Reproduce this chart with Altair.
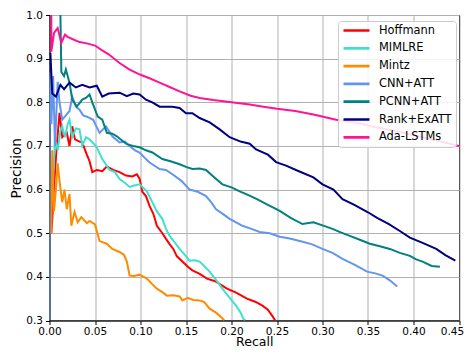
import altair as alt
import pandas as pd

series_names = ["Hoffmann", "MIMLRE", "Mintz", "CNN+ATT", "PCNN+ATT", "Rank+ExATT", "Ada-LSTMs"]
series_colors = ["#ff0000", "#40e0d0", "#ff8c00", "#6495ed", "#008080", "#000080", "#ff1493"]

hoffmann_r = [0.002, 0.003, 0.006, 0.008, 0.011, 0.014, 0.019, 0.022, 0.025, 0.028, 0.033, 0.036, 0.041, 0.044, 0.047, 0.052, 0.058, 0.063, 0.07, 0.077, 0.084, 0.091, 0.096, 0.099, 0.102, 0.106, 0.110, 0.114, 0.118, 0.124, 0.128, 0.132, 0.136, 0.140, 0.146, 0.152, 0.157, 0.165, 0.173, 0.182, 0.195, 0.205, 0.217, 0.226, 0.234, 0.240, 0.245, 0.248]
hoffmann_p = [0.50, 0.53, 0.64, 0.70, 0.776, 0.72, 0.73, 0.70, 0.745, 0.715, 0.71, 0.708, 0.68, 0.665, 0.64, 0.645, 0.642, 0.653, 0.645, 0.64, 0.632, 0.63, 0.635, 0.625, 0.595, 0.585, 0.562, 0.545, 0.517, 0.50, 0.487, 0.475, 0.464, 0.447, 0.435, 0.423, 0.415, 0.407, 0.396, 0.39, 0.373, 0.364, 0.35, 0.343, 0.334, 0.325, 0.31, 0.30]

mimlre_r = [0.004, 0.006, 0.009, 0.012, 0.014, 0.017, 0.020, 0.022, 0.025, 0.029, 0.033, 0.036, 0.040, 0.044, 0.051, 0.058, 0.066, 0.072, 0.077, 0.083, 0.088, 0.094, 0.099, 0.107, 0.113, 0.118, 0.124, 0.128, 0.132, 0.138, 0.143, 0.149, 0.154, 0.160, 0.165, 0.170, 0.176, 0.183, 0.190, 0.198, 0.205, 0.210, 0.213, 0.215]
mimlre_p = [0.62, 0.715, 0.69, 0.735, 0.745, 0.72, 0.75, 0.76, 0.72, 0.74, 0.738, 0.70, 0.72, 0.715, 0.70, 0.67, 0.645, 0.64, 0.624, 0.615, 0.606, 0.61, 0.612, 0.596, 0.571, 0.55, 0.533, 0.51, 0.494, 0.478, 0.464, 0.45, 0.437, 0.438, 0.435, 0.425, 0.412, 0.393, 0.373, 0.352, 0.334, 0.318, 0.304, 0.30]

mintz_r = [0.002, 0.003, 0.005, 0.007, 0.009, 0.011, 0.014, 0.0165, 0.019, 0.022, 0.024, 0.0275, 0.031, 0.035, 0.041, 0.044, 0.050, 0.055, 0.063, 0.069, 0.077, 0.082, 0.085, 0.088, 0.093, 0.099, 0.107, 0.112, 0.118, 0.124, 0.129, 0.136, 0.143, 0.146, 0.152, 0.158, 0.165, 0.170, 0.176, 0.183, 0.190, 0.192]
mintz_p = [0.50, 0.69, 0.55, 0.60, 0.66, 0.62, 0.571, 0.60, 0.555, 0.59, 0.517, 0.549, 0.525, 0.537, 0.523, 0.528, 0.52, 0.482, 0.476, 0.464, 0.457, 0.45, 0.435, 0.403, 0.402, 0.405, 0.396, 0.385, 0.373, 0.365, 0.357, 0.358, 0.355, 0.346, 0.352, 0.347, 0.346, 0.342, 0.327, 0.318, 0.305, 0.30]

cnn_r = [0.000, 0.000, 0.002, 0.004, 0.006, 0.009, 0.011, 0.014, 0.018, 0.022, 0.025, 0.029, 0.033, 0.037, 0.041, 0.048, 0.055, 0.062, 0.069, 0.077, 0.083, 0.088, 0.094, 0.099, 0.105, 0.110, 0.121, 0.128, 0.135, 0.145, 0.154, 0.163, 0.172, 0.178, 0.183, 0.190, 0.198, 0.205, 0.212, 0.222, 0.231, 0.242, 0.253, 0.264, 0.275, 0.288, 0.300, 0.311, 0.322, 0.335, 0.349, 0.358, 0.366, 0.374, 0.382]
cnn_p = [0.30, 0.868, 0.75, 0.86, 0.70, 0.847, 0.80, 0.76, 0.77, 0.78, 0.813, 0.79, 0.783, 0.77, 0.767, 0.76, 0.73, 0.745, 0.722, 0.708, 0.71, 0.70, 0.69, 0.685, 0.672, 0.662, 0.647, 0.645, 0.635, 0.62, 0.60, 0.595, 0.585, 0.57, 0.555, 0.545, 0.533, 0.525, 0.517, 0.51, 0.503, 0.50, 0.492, 0.488, 0.482, 0.475, 0.464, 0.455, 0.441, 0.428, 0.412, 0.408, 0.403, 0.392, 0.378]

pcnn_r = [0.012, 0.013, 0.016, 0.018, 0.022, 0.025, 0.030, 0.036, 0.040, 0.044, 0.047, 0.053, 0.058, 0.063, 0.069, 0.074, 0.080, 0.085, 0.092, 0.099, 0.106, 0.113, 0.124, 0.133, 0.143, 0.150, 0.157, 0.165, 0.172, 0.180, 0.190, 0.200, 0.209, 0.218, 0.228, 0.240, 0.253, 0.265, 0.278, 0.290, 0.300, 0.311, 0.320, 0.330, 0.341, 0.352, 0.363, 0.374, 0.385, 0.396, 0.403, 0.410, 0.420, 0.429]
pcnn_p = [1.00, 0.87, 0.86, 0.875, 0.845, 0.806, 0.79, 0.806, 0.81, 0.818, 0.80, 0.767, 0.76, 0.73, 0.728, 0.722, 0.712, 0.704, 0.70, 0.697, 0.69, 0.685, 0.67, 0.665, 0.658, 0.652, 0.647, 0.648, 0.645, 0.63, 0.612, 0.605, 0.596, 0.588, 0.578, 0.565, 0.551, 0.535, 0.521, 0.525, 0.518, 0.51, 0.502, 0.494, 0.485, 0.476, 0.47, 0.464, 0.455, 0.448, 0.44, 0.435, 0.425, 0.423]

rank_r = [0.001, 0.003, 0.007, 0.012, 0.016, 0.022, 0.029, 0.036, 0.044, 0.052, 0.058, 0.065, 0.077, 0.085, 0.092, 0.099, 0.106, 0.113, 0.121, 0.135, 0.143, 0.150, 0.157, 0.165, 0.176, 0.187, 0.198, 0.210, 0.220, 0.227, 0.240, 0.249, 0.260, 0.274, 0.290, 0.300, 0.312, 0.322, 0.335, 0.350, 0.360, 0.373, 0.385, 0.396, 0.410, 0.425, 0.435, 0.446]
rank_p = [0.913, 0.82, 0.813, 0.84, 0.83, 0.845, 0.834, 0.84, 0.834, 0.838, 0.813, 0.82, 0.822, 0.814, 0.82, 0.818, 0.806, 0.80, 0.79, 0.79, 0.787, 0.775, 0.775, 0.764, 0.754, 0.738, 0.72, 0.71, 0.705, 0.692, 0.68, 0.663, 0.655, 0.642, 0.628, 0.612, 0.60, 0.578, 0.565, 0.548, 0.535, 0.521, 0.505, 0.49, 0.478, 0.464, 0.45, 0.437]

ada_r = [0.002, 0.002, 0.005, 0.009, 0.013, 0.017, 0.020, 0.025, 0.033, 0.041, 0.050, 0.057, 0.065, 0.077, 0.088, 0.100, 0.110, 0.121, 0.132, 0.143, 0.155, 0.165, 0.180, 0.200, 0.220, 0.235, 0.250, 0.270, 0.290, 0.315, 0.340, 0.360, 0.382, 0.400, 0.420, 0.440, 0.450]
ada_p = [1.00, 0.916, 0.959, 0.97, 0.936, 0.955, 0.95, 0.945, 0.938, 0.935, 0.93, 0.92, 0.91, 0.89, 0.875, 0.863, 0.855, 0.845, 0.835, 0.825, 0.815, 0.81, 0.805, 0.80, 0.795, 0.79, 0.785, 0.78, 0.772, 0.76, 0.752, 0.742, 0.733, 0.725, 0.715, 0.705, 0.70]

x_ticks = [0.0, 0.05, 0.1, 0.15, 0.2, 0.25, 0.3, 0.35, 0.4, 0.45]
y_ticks = [0.3, 0.4, 0.5, 0.6, 0.7, 0.8, 0.9, 1.0]

all_r = [hoffmann_r, mimlre_r, mintz_r, cnn_r, pcnn_r, rank_r, ada_r]
all_p = [hoffmann_p, mimlre_p, mintz_p, cnn_p, pcnn_p, rank_p, ada_p]

rows = []
for name, rs, ps in zip(series_names, all_r, all_p):
    for i, (r, p) in enumerate(zip(rs, ps)):
        rows.append({"model": name, "recall": r, "precision": p, "idx": i})
df = pd.DataFrame(rows)

FONT = "DejaVu Sans"

chart = alt.Chart(df).mark_line(strokeWidth=2, clip=True).encode(
    x=alt.X("recall:Q", scale=alt.Scale(domain=[0, 0.45], nice=False, zero=False),
            axis=alt.Axis(values=x_ticks, format=".2f", title="Recall",
                          titleBaseline="alphabetic", titleY=25, titleFontSize=12.5,
                          labelPadding=2,
                          labelOffset={"condition": {"test": "datum.value > 0.44", "value": -7},
                                       "value": 0})),
    y=alt.Y("precision:Q", scale=alt.Scale(domain=[0.3, 1.0], nice=False, zero=False),
            axis=alt.Axis(values=y_ticks, format=".1f", title="Precision",
                          titleFontSize=13.5, titlePadding=2)),
    color=alt.Color("model:N",
                    scale=alt.Scale(domain=series_names, range=series_colors),
                    legend=alt.Legend(orient="none", legendX=288.5, legendY=6, title=None,
                                      symbolType="stroke", symbolSize=676, symbolStrokeWidth=2.7,
                                      labelFontSize=11.4, labelFont=FONT, labelColor="black",
                                      fillColor="rgba(255,255,255,0.85)", strokeColor="#cccccc",
                                      cornerRadius=3, padding=4, rowPadding=5.8, clipHeight=11,
                                      labelOffset=8)),
    detail="model:N",
    order=alt.Order("idx:Q"),
).properties(
    width=409.5, height=305.5,
    autosize=alt.AutoSizeParams(type="none"),
    padding={"left": 41.5, "top": 7, "right": 5, "bottom": 27.5},
).configure_view(
    stroke="black", strokeWidth=1
).configure_axis(
    labelFont=FONT, titleFont=FONT, labelFontSize=10.5,
    titleFontWeight="normal", labelColor="black", titleColor="black",
    tickColor="black", domainColor="black", tickSize=4, labelPadding=3,
    gridColor="#b0b0b0", gridWidth=1, gridOpacity=1,
    labelFlush=False, labelOverlap=False, titlePadding=4,
)

chart.save("out.html", embed_options={"renderer": "svg", "actions": False})
